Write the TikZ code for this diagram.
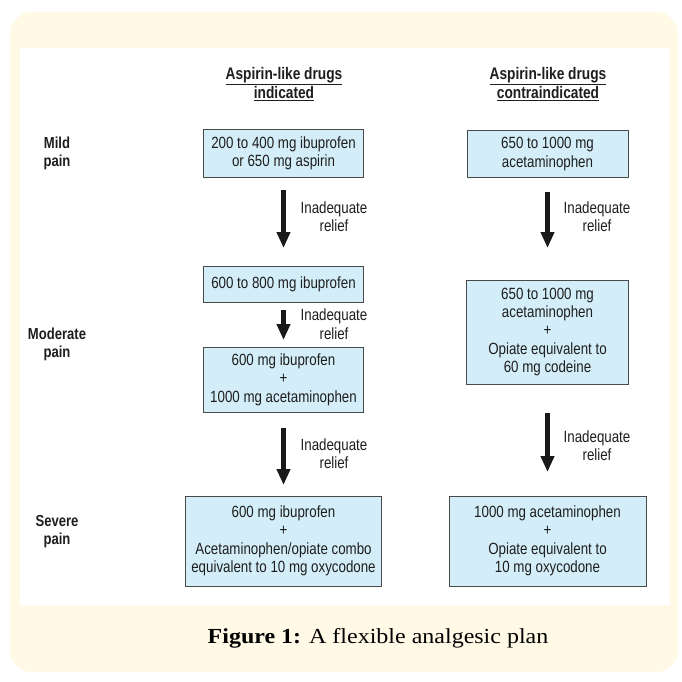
\documentclass[tikz,border=0pt]{standalone}
\usepackage{fontspec}
\setmainfont{Liberation Serif}
\newfontfamily\narrow[FakeStretch=0.82]{Liberation Sans}
\newfontfamily\capfont[FakeStretch=1.12]{Liberation Serif}
\usetikzlibrary{arrows.meta,calc}
\definecolor{cream}{HTML}{FFF9E6}
\definecolor{boxfill}{HTML}{D4EEF9}
\definecolor{boxline}{HTML}{4A4A4A}
\definecolor{txt}{HTML}{1E1E1E}
\begin{document}
\begin{tikzpicture}[x=1bp,y=-1bp,
  every node/.style={inner sep=0pt,outer sep=0pt},
  drugbox/.style={draw=boxline,line width=1bp,fill=boxfill,align=center,
    font=\narrow\fontsize{16.3}{18.5}\selectfont,text=txt},
  relief/.style={align=center,font=\narrow\fontsize{16.3}{18.5}\selectfont,text=txt},
  head/.style={align=center,font=\narrow\bfseries\fontsize{16.8}{17.5}\selectfont,text=txt},
  side/.style={align=center,font=\narrow\bfseries\fontsize{16}{18}\selectfont,text=txt},
  bigarrow/.style={line width=4.5bp,draw=black!90,-{Triangle[length=16bp,width=13bp]}}]
\useasboundingbox (0,0) rectangle (682,682);
\fill[cream,rounded corners=22bp] (10,12) rectangle (678,672);
\fill[white] (20,48) rectangle (670,605);
% headers
\node[head] (h1) at (284,84) {\underline{Aspirin-like drugs}\\\underline{indicated}};
\node[head] (h2) at (548,84) {\underline{Aspirin-like drugs}\\\underline{contraindicated}};
% side labels
\node[side] (s1) at (57,153) {Mild\\pain};
\node[side] (s2) at (57,344) {Moderate\\pain};
\node[side] (s3) at (57,532) {Severe\\pain};
% boxes
\node[drugbox,minimum width=160bp,minimum height=47bp] (b1) at (283.5,153.5) {200 to 400 mg ibuprofen\\or 650 mg aspirin};
\node[drugbox,minimum width=161bp,minimum height=46bp] (b2) at (547.5,154) {650 to 1000 mg\\acetaminophen};
\node[drugbox,minimum width=160bp,minimum height=36bp] (b3) at (283.5,284) {600 to 800 mg ibuprofen};
\node[drugbox,minimum width=160bp,minimum height=65bp] (b4) at (283.5,379.5) {600 mg ibuprofen\\+\\1000 mg acetaminophen};
\node[drugbox,minimum width=162bp,minimum height=104bp] (b5) at (547.5,332) {650 to 1000 mg\\acetaminophen\\+\\Opiate equivalent to\\60 mg codeine};
\node[drugbox,minimum width=196bp,minimum height=90bp] (b6) at (283.5,541) {600 mg ibuprofen\\+\\Acetaminophen/opiate combo\\equivalent to 10 mg oxycodone};
\node[drugbox,minimum width=197bp,minimum height=90bp] (b7) at (547.5,541) {1000 mg acetaminophen\\+\\Opiate equivalent to\\10 mg oxycodone};
% arrows
\draw[bigarrow] ($(b1.south)+(0,13)$) -- ($(b3.north)+(0,-18)$);
\draw[bigarrow] ($(b3.south)+(0,8)$) -- ($(b4.north)+(0,-7)$);
\draw[bigarrow] ($(b4.south)+(0,16)$) -- ($(b6.north)+(0,-11)$);
\draw[bigarrow] ($(b2.south)+(0,15)$) -- ($(b5.north)+(0,-32)$);
\draw[bigarrow] ($(b5.south)+(0,29)$) -- ($(b7.north)+(0,-24)$);
% labels
\node[relief] (r1) at (334,216.5) {Inadequate\\relief};
\node[relief] (r2) at (334,324) {Inadequate\\relief};
\node[relief] (r3) at (334,453.5) {Inadequate\\relief};
\node[relief] (r4) at (597,216.5) {Inadequate\\relief};
\node[relief] (r5) at (597,445.5) {Inadequate\\relief};
% caption
\node[font=\capfont\fontsize{21.5}{24}\selectfont,text=black] (cap) at (378,638) {\textbf{Figure 1:} A flexible analgesic plan};
\end{tikzpicture}
\end{document}
